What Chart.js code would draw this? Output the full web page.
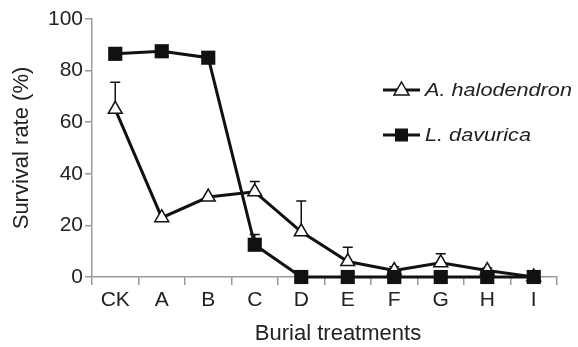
<!DOCTYPE html>
<html><head><meta charset="utf-8">
<script src="https://cdn.jsdelivr.net/npm/chart.js@4/dist/chart.umd.min.js"></script>
<style>html,body{margin:0;padding:0;background:#fff;}#wrap{width:578px;height:347px;position:relative;}canvas{display:block;}</style>
</head><body><div id="wrap"><canvas id="c" width="578" height="347"></canvas></div>
<script>
const categories = ["CK","A","B","C","D","E","F","G","H","I"];
const haloValues = [65, 23, 31, 33, 17.5, 6, 2.5, 5.5, 2.5, 0];
const haloErrors = [10.5, 0, 0, 4, 12, 5.5, 1.5, 3.5, 1, 0];
const davuValues = [86.5, 87.5, 85, 12.5, 0, 0, 0, 0, 0, 0];
const davuErrors = [2, 0, 0, 4, 0, 0, 0, 0, 0, 0];
const yTicks = [0, 20, 40, 60, 80, 100];
const seriesNames = ["A. halodendron", "L. davurica"];

const FONT = "'Liberation Sans', Arial, sans-serif";
const GREY = "#9a9a9a";

const errorBars = {
  id: 'errorBars',
  beforeDatasetsDraw(chart) {
    const ctx = chart.ctx, y = chart.scales.y;
    const errs = [haloErrors, davuErrors];
    chart.data.datasets.forEach((ds, i) => {
      const meta = chart.getDatasetMeta(i);
      meta.data.forEach((pt, j) => {
        const e = errs[i][j];
        if (!e) return;
        const top = y.getPixelForValue(ds.data[j] + e);
        ctx.save();
        ctx.strokeStyle = '#111';
        ctx.lineWidth = 1.5;
        ctx.beginPath();
        ctx.moveTo(pt.x, pt.y);
        ctx.lineTo(pt.x, top);
        ctx.moveTo(pt.x - 5, top);
        ctx.lineTo(pt.x + 5, top);
        ctx.stroke();
        ctx.restore();
      });
    });
  }
};

const extras = {
  id: 'extras',
  afterDraw(chart) {
    const ctx = chart.ctx;
    ctx.save();
    ctx.fillStyle = '#222';
    ctx.font = "22px " + FONT;
    ctx.textAlign = 'center';
    ctx.textBaseline = 'middle';
    ctx.fillText("Burial treatments", 338, 334);
    const rows = [{y: 90, style: 'triangle', fill: '#fff'}, {y: 135, style: 'rect', fill: '#111'}];
    rows.forEach((r, i) => {
      ctx.strokeStyle = '#111';
      ctx.lineWidth = 3;
      ctx.beginPath();
      ctx.moveTo(383, r.y); ctx.lineTo(420, r.y); ctx.stroke();
      ctx.lineWidth = 1.5;
      ctx.fillStyle = r.fill;
      if (r.style === 'triangle') {
        ctx.beginPath();
        ctx.moveTo(401.5, r.y - 8); ctx.lineTo(409, r.y + 5); ctx.lineTo(394, r.y + 5); ctx.closePath();
        ctx.fill(); ctx.stroke();
      } else {
        ctx.fillRect(395, r.y - 6.5, 13, 13);
      }
      ctx.fillStyle = '#222';
      ctx.font = "italic 19px " + FONT;
      ctx.textAlign = 'left';
      ctx.save();
      ctx.translate(425, r.y + 1);
      ctx.scale(1.14, 1);
      ctx.fillText(seriesNames[i], 0, 0);
      ctx.restore();
    });
    ctx.restore();
  }
};

new Chart(document.getElementById('c'), {
  type: 'line',
  data: {
    labels: categories,
    datasets: [
      { label: seriesNames[0], data: haloValues, borderColor: '#111', borderWidth: 3,
        pointStyle: 'triangle', pointRadius: 8, pointBorderWidth: 1.5, pointBackgroundColor: '#fff',
        pointBorderColor: '#111', tension: 0, clip: false, order: 2 },
      { label: seriesNames[1], data: davuValues, borderColor: '#111', borderWidth: 3,
        pointStyle: 'rect', pointRadius: 10, pointBorderWidth: 0, pointBackgroundColor: '#111',
        tension: 0, clip: false, order: 1 }
    ]
  },
  options: {
    responsive: false, maintainAspectRatio: false, animation: false, devicePixelRatio: 1,
    layout: { padding: { top: 19, right: 21, left: 0, bottom: 0 } },
    plugins: { legend: { display: false }, tooltip: { enabled: false } },
    scales: {
      x: {
        offset: true,
        grid: { display: true, offset: true, drawOnChartArea: false, drawTicks: true, tickLength: 8, color: GREY, lineWidth: 1.5 },
        border: { display: true, color: GREY, width: 1.5 },
        ticks: { color: '#222', font: { family: FONT, size: 21 }, padding: 3, maxRotation: 0, autoSkip: false },
        afterFit(s) { s.height = 70; }
      },
      y: {
        min: 0, max: 100,
        afterBuildTicks(s) { s.ticks = yTicks.map(v => ({ value: v })); },
        grid: { display: true, drawOnChartArea: false, drawTicks: true, tickLength: 7, color: GREY, lineWidth: 1.5 },
        border: { display: true, color: GREY, width: 1.5 },
        ticks: { color: '#222', font: { family: FONT, size: 21 }, padding: 2 },
        title: { display: true, text: "Survival rate (%)", color: '#222', font: { family: FONT, size: 22 }, padding: { top: 9, bottom: 0 } },
        afterFit(s) { s.width = 92; }
      }
    }
  },
  plugins: [errorBars, extras]
});
</script></body></html>
